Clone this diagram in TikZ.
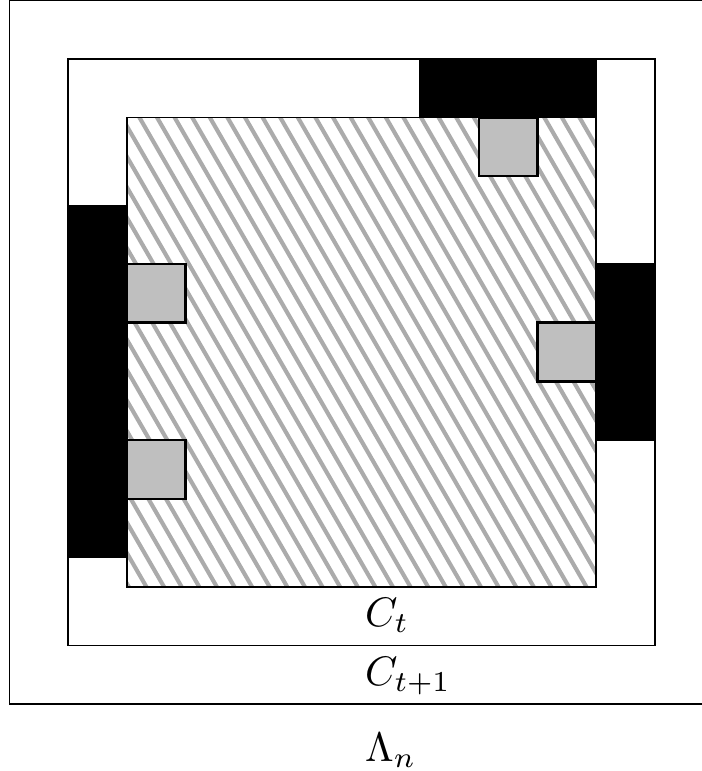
\documentclass[tikz,border=0pt]{standalone}
\usepackage{tikz}
\usetikzlibrary{calc}

\tikzset{
  hatchline/.style={gray!66, line width=1pt},
  blackbox/.style={fill=black, draw=black},
  graybox/.style={fill=lightgray, draw=black, semithick},
  label/.style={anchor=base west, inner sep=0pt}
}

\begin{document}
\begin{tikzpicture}[x=0.5cm, y=0.5cm]
\useasboundingbox (-1.16,-2.14) rectangle (10.8,11);

\coordinate (outer) at (-1, -1);
\coordinate (mid) at (0, 0);
\coordinate (inner) at (1, 1);

\draw (outer) rectangle ++(12, 12);
\draw (mid) rectangle ++(10, 10);

\begin{scope}
\clip (inner) rectangle ++(8, 8);
\foreach \i in {0,...,44}
  \draw [hatchline] ($(-3.7 + 0.3*\i, 9.2)$) -- ++(-60:10);
\end{scope}
\draw (inner) rectangle ++(8, 8);

\filldraw [blackbox] (6, 9) rectangle (9, 10);
\filldraw [blackbox] (0, 1.5) rectangle (1, 7.5);
\filldraw [blackbox] (9, 3.5) rectangle (10, 6.5);

\filldraw [graybox] (7, 8) rectangle (8, 9);
\filldraw [graybox] (1, 5.5) rectangle (2, 6.5);
\filldraw [graybox] (1, 2.5) rectangle (2, 3.5);
\filldraw [graybox] (8, 4.5) rectangle (9, 5.5);

\coordinate (lab) at (5, 0);
\node[label] (ct) at ($(lab) + (0.05, 0.33)$) {$C_t$};
\node[label] (ctone) at ($(lab) + (0.05, -0.68)$) {$C_{t+1}$};
\node[label] (lambda) at ($(lab) + (0.05, -1.98)$) {$\Lambda_n$};
\end{tikzpicture}
\end{document}
